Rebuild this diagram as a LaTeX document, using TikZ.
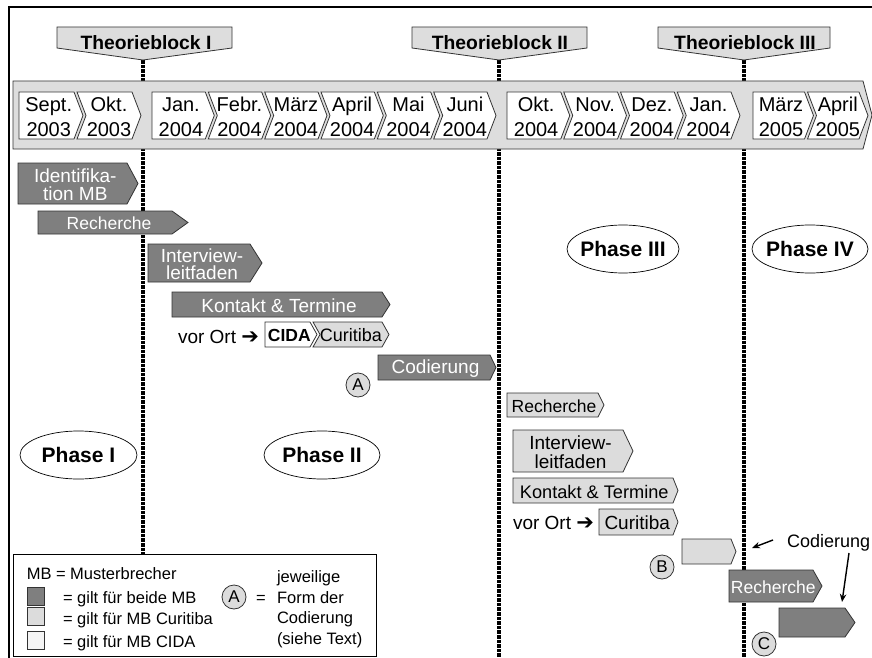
\documentclass[tikz,border=0pt]{standalone}
\usepackage{fontspec}
\setmainfont{Liberation Sans}
\newfontfamily\symfont{DejaVu Sans}
\usetikzlibrary{arrows.meta,shapes.geometric}
\definecolor{dk}{HTML}{7F7F7F}
\definecolor{lt}{HTML}{DCDCDC}
\definecolor{bandc}{HTML}{DDDDDD}
\definecolor{edge}{HTML}{333333}
\definecolor{wh}{HTML}{F4F4F4}
% #1 x0, #2 tip, #3 top, #4 bottom, #5 depth, #6 notch, #7 style, #8 name, #9 text
\newcommand\mychev[9]{%
  \draw[#7] (#1,#3) -- ({#2-#5},#3) -- (#2,{(#3+#4)/2}) -- ({#2-#5},#4) -- (#1,#4) -- ({#1+#6},{(#3+#4)/2}) -- cycle;
  \node[#7txt] (#8) at ({(#1+#6/2+#2-#5/2)/2},{(#3+#4)/2}) {#9};}
\begin{document}
\begin{tikzpicture}[x=1pt,y=-1pt,
  every node/.style={inner sep=0pt, outer sep=0pt},
  mon/.style={fill=white, draw=edge, line width=0.8pt},
  montxt/.style={font=\fontsize{20}{24.5}\selectfont, align=center, yshift=-1.5pt},
  dk/.style={fill=dk, draw=edge, line width=0.8pt},
  dktxt/.style={font=\fontsize{19}{17.5}\selectfont, align=center, text=white, yshift=-1pt},
  lt/.style={fill=lt, draw=edge, line width=0.8pt},
  lttxt/.style={font=\fontsize{19}{18.5}\selectfont, align=center, yshift=-1pt},
  wt/.style={fill=white, draw=edge, line width=0.8pt},
  wttxt/.style={font=\bfseries\fontsize{17.5}{20}\selectfont, yshift=-1pt},
  tb/.style={fill=bandc, draw=edge, line width=0.8pt},
  tbtxt/.style={font=\bfseries\fontsize{19.3}{22}\selectfont, anchor=base},
  vline/.style={line width=3.4pt, dash pattern=on 3.6pt off 1pt},
  phase/.style={ellipse, draw, fill=white, line width=0.7pt, minimum width=116pt, minimum height=48pt},
  phasetxt/.style={font=\bfseries\fontsize{21}{24}\selectfont},
  circ/.style={circle, draw=edge, fill=lt, line width=0.8pt, minimum size=24pt, font=\fontsize{17}{20}\selectfont},
  arr/.style={-{Stealth[length=8pt,width=6.5pt]}, line width=1.4pt},
  lg/.style={font=\fontsize{16.5}{20}\selectfont, anchor=base west},
  sq/.style={draw=edge, line width=0.8pt, minimum width=17pt, minimum height=18pt},
]
\useasboundingbox (0,0) rectangle (872,658);
% frame
\draw[line width=2.2pt] (9,658) -- (9,7) -- (872,7);
% vertical dotted lines
\coordinate (v1t) at (143,60); \coordinate (v1b) at (143,658);
\coordinate (v2t) at (499,60); \coordinate (v2b) at (499,658);
\coordinate (v3t) at (744,60); \coordinate (v3b) at (744,658);
\draw[vline] (v1t) -- (v1b);
\draw[vline] (v2t) -- (v2b);
\draw[vline] (v3t) -- (v3b);
% band
\draw[fill=bandc, draw=edge, line width=0.8pt] (13,81) -- (863,81) -- (872,115) -- (863,149) -- (13,149) -- cycle;
% months
\mychev{19}{83}{92}{139}{9}{0}{mon}{m1}{Sept.\\2003}
\mychev{77}{141}{92}{139}{9}{9}{mon}{m2}{Okt.\\2003}
\mychev{152}{214.3}{92}{139}{9}{0}{mon}{m3}{Jan.\\2004}
\mychev{208.3}{270.7}{92}{139}{9}{9}{mon}{m4}{Febr.\\2004}
\mychev{264.7}{327}{92}{139}{9}{9}{mon}{m5}{März\\2004}
\mychev{321}{383.3}{92}{139}{9}{9}{mon}{m6}{April\\2004}
\mychev{377.3}{439.7}{92}{139}{9}{9}{mon}{m7}{Mai\\2004}
\mychev{433.7}{496}{92}{139}{9}{9}{mon}{m8}{Juni\\2004}
\mychev{507}{569.75}{92}{139}{9}{0}{mon}{m9}{Okt.\\2004}
\mychev{563.75}{626.5}{92}{139}{9}{9}{mon}{m10}{Nov.\\2004}
\mychev{620.5}{683.25}{92}{139}{9}{9}{mon}{m11}{Dez.\\2004}
\mychev{677.25}{740}{92}{139}{9}{9}{mon}{m12}{Jan.\\2004}
\mychev{753}{813.5}{92}{139}{9}{0}{mon}{m13}{März\\2005}
\mychev{807.5}{868}{92}{139}{9}{9}{mon}{m14}{April\\2005}
% Theorieblocks
\draw[tb] (57,27) -- (232,27) -- (232,48) -- (v1t) -- (57,48) -- cycle;
\node[tbtxt] (tb1) at (146,50) {Theorieblock I};
\draw[tb] (412,27) -- (587,27) -- (587,48) -- (v2t) -- (412,48) -- cycle;
\node[tbtxt] (tb2) at (500,50) {Theorieblock II};
\draw[tb] (658,27) -- (830,27) -- (830,48) -- (v3t) -- (658,48) -- cycle;
\node[tbtxt] (tb3) at (745,50) {Theorieblock III};
% Phase I/II tasks
\mychev{18}{138}{163}{204}{11}{0}{dk}{t1}{Identifika-\\tion MB}
\mychev{38}{188}{211}{234}{16}{0}{dk}{t2}{\fontsize{17.5}{20}\selectfont Recherche}
\mychev{148}{262}{244}{282}{12}{0}{dk}{t3}{Interview-\\leitfaden}
\mychev{172}{390}{292}{317}{8}{0}{dk}{t4}{Kontakt \& Termine}
\node[font=\fontsize{19}{20}\selectfont, anchor=base west] (vo1) at (178,343) {vor Ort {\symfont\fontsize{21}{20}\selectfont ➔}};
\mychev{265}{317}{322}{347}{7}{0}{wt}{cida}{CIDA}
\mychev{313}{389}{322}{347}{7}{7}{lt}{cur1}{\fontsize{18}{20}\selectfont Curitiba}
\mychev{378}{496}{355}{380}{6}{0}{dk}{t5}{Codierung}
\node[circ] (ca) at (358,385) {A};
% Phase III tasks
\mychev{507}{604}{393}{417}{6}{0}{lt}{r1}{\fontsize{17.5}{20}\selectfont Recherche}
\mychev{513}{633}{430}{472}{10}{0}{lt}{r2}{Interview-\\leitfaden}
\mychev{513}{678}{478}{503}{5}{0}{lt}{r3}{\fontsize{18.2}{20}\selectfont Kontakt \& Termine}
\node[font=\fontsize{19}{20}\selectfont, anchor=base west] (vo2) at (513,529) {vor Ort {\symfont\fontsize{21}{20}\selectfont ➔}};
\mychev{599}{678}{509}{535}{5}{0}{lt}{cur2}{\fontsize{19}{20}\selectfont Curitiba}
\mychev{682}{736}{539}{564}{5}{0}{lt}{bbox}{}
\node[circ] (cb) at (662,567) {B};
% Phase IV tasks
\mychev{729}{822}{570}{602}{9}{0}{dk}{r4}{\fontsize{17.5}{20}\selectfont Recherche}
\mychev{779}{855}{608}{637}{10}{0}{dk}{cbox}{}
\node[circ] (cc) at (764,644) {C};
% Codierung annotation
\node[font=\fontsize{18}{20}\selectfont, anchor=base west] (cod) at (787,547) {Codierung};
\coordinate (a1s) at (773,540); \coordinate (a1e) at (752,548);
\coordinate (a2s) at (849,553); \coordinate (a2e) at (842,602);
\draw[arr] (a1s) -- (a1e);
\draw[arr] (a2s) -- (a2e);
% Phases
\node[phase, minimum width=117pt, label={[phasetxt]center:Phase I}] (p1) at (78.5,455) {};
\node[phase, label={[phasetxt]center:Phase II}] (p2) at (322,455) {};
\node[phase, minimum width=112pt, label={[phasetxt]center:Phase III}] (p3) at (623,249) {};
\node[phase, label={[phasetxt]center:Phase IV}] (p4) at (810,249) {};
% legend
\node[draw=black, fill=white, line width=0.8pt, minimum width=363pt, minimum height=102pt, anchor=north west] (legend) at (13,554) {};
\node[lg] (l0a) at (27,579) {MB};
\node[lg] (l0b) at (56,579) {= Musterbrecher};
\node[sq, fill=dk, anchor=north west] (s1) at (27,587) {};
\node[sq, fill=lt, anchor=north west] (s2) at (27,607) {};
\node[sq, fill=wh, anchor=north west] (s3) at (27,631) {};
\node[lg] (l1) at (63,603) {= gilt für beide MB};
\node[lg] (l2) at (63,624) {= gilt für MB Curitiba};
\node[lg] (l3) at (63,647) {= gilt für MB CIDA};
\node[circ] (la) at (234,597) {A};
\node[lg] (leq) at (256,603) {=};
\node[lg] (lj1) at (277,582) {jeweilige};
\node[lg] (lj2) at (277,603) {Form der};
\node[lg] (lj3) at (277,623) {Codierung};
\node[lg] (lj4) at (277,644) {(siehe Text)};
\end{tikzpicture}
\end{document}
